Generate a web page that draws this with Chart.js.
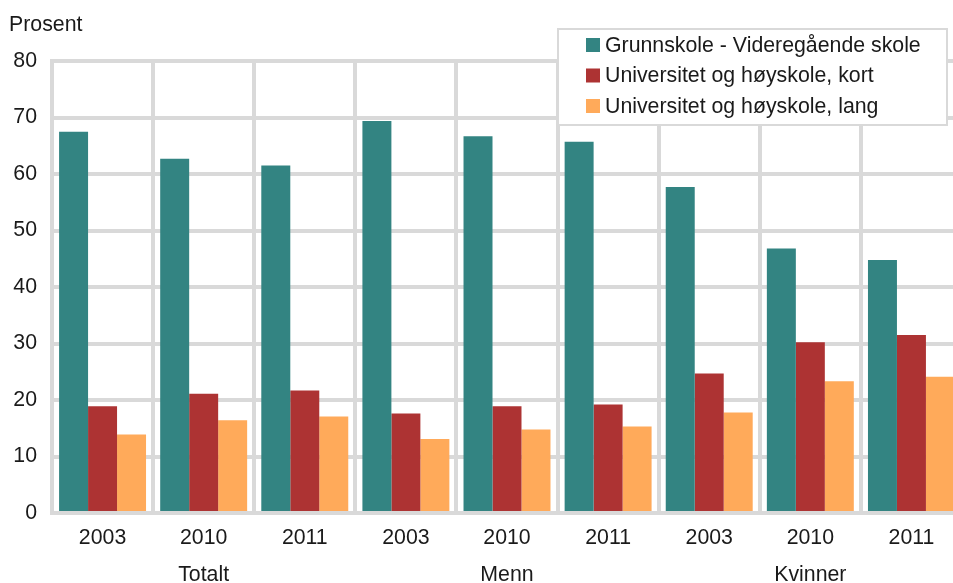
<!DOCTYPE html>
<html>
<head>
<meta charset="utf-8">
<script src="https://cdn.jsdelivr.net/npm/chart.js@4"></script>
<style>
  html, body { margin: 0; padding: 0; background: #fff; overflow: hidden; }
  #wrap { width: 964px; height: 583px; }
</style>
</head>
<body>
<div id="wrap"><canvas id="chart" width="964" height="583"></canvas></div>
<script>
// Data
const years = ['2003', '2010', '2011', '2003', '2010', '2011', '2003', '2010', '2011'];
const groups = ['', 'Totalt', '', '', 'Menn', '', '', 'Kvinner', ''];
const grunnskole = [67.5, 62.7, 61.5, 69.4, 66.7, 65.7, 57.7, 46.8, 44.8];
const uniKort = [18.9, 21.1, 21.7, 17.6, 18.9, 19.2, 24.7, 30.2, 31.5];
const uniLang = [13.9, 16.4, 17.1, 13.1, 14.8, 15.3, 17.8, 23.3, 24.1];
const seriesNames = ['Grunnskole - Videregående skole', 'Universitet og høyskole, kort', 'Universitet og høyskole, lang'];
const seriesColors = ['#338482', '#ad3333', '#ffaa5a'];
const yTicks = [0, 10, 20, 30, 40, 50, 60, 70, 80];

const FONT = '"Liberation Sans", Arial, sans-serif';
const FSIZE = 21.3;
const GRID = '#d9d9d9';
const TEXT = '#1a1a1a';

Chart.defaults.font.family = FONT;
Chart.defaults.font.size = FSIZE;
Chart.defaults.color = TEXT;

// "Prosent" label and the boxed legend in the top right corner
const extras = {
    id: 'extras',
    afterDraw(chart) {
        const ctx = chart.ctx;
        ctx.save();
        ctx.font = FSIZE + 'px ' + FONT;
        ctx.textBaseline = 'middle';
        ctx.fillStyle = TEXT;
        ctx.fillText('Prosent', 9, 25);

        ctx.fillStyle = '#fff';
        ctx.fillRect(558, 29, 389, 96);
        ctx.strokeStyle = GRID;
        ctx.lineWidth = 2;
        ctx.strokeRect(558, 29, 389, 96);

        chart.data.datasets.forEach((ds, i) => {
            const y = 45 + i * 30.5;
            ctx.fillStyle = ds.backgroundColor;
            ctx.fillRect(586, y - 7, 14, 14);
            ctx.fillStyle = TEXT;
            ctx.fillText(ds.label, 605, y + 1);
        });
        ctx.restore();
    }
};

const labels = years.map((y, i) => [y, groups[i]]);
const seriesData = [grunnskole, uniKort, uniLang];

const ctx = document.getElementById('chart').getContext('2d');
new Chart(ctx, {
    type: 'bar',
    data: {
        labels: labels,
        datasets: seriesData.map((d, i) => ({
            label: seriesNames[i],
            data: d,
            backgroundColor: seriesColors[i],
            borderWidth: 0,
            barPercentage: 1,
            categoryPercentage: 0.86
        }))
    },
    options: {
        responsive: false,
        animation: false,
        layout: { padding: { top: 61, right: 2, left: 0, bottom: 0 } },
        plugins: {
            legend: { display: false },
            tooltip: { enabled: false }
        },
        scales: {
            y: {
                min: 0,
                max: 80,
                afterBuildTicks: s => { s.ticks = yTicks.map(v => ({ value: v })); },
                afterFit: s => { s.width = 52; },
                ticks: { padding: 15, color: TEXT },
                grid: { color: GRID, lineWidth: 4, drawTicks: false },
                border: { color: GRID, width: 4 }
            },
            x: {
                afterFit: s => { s.height = 70; },
                ticks: {
                    padding: 7,
                    color: TEXT,
                    maxRotation: 0,
                    autoSkip: false,
                    font: { lineHeight: 37 / FSIZE }
                },
                grid: { offset: true, color: GRID, lineWidth: 4, drawTicks: false },
                border: { color: GRID, width: 4 }
            }
        }
    },
    plugins: [extras]
});
</script>
</body>
</html>
